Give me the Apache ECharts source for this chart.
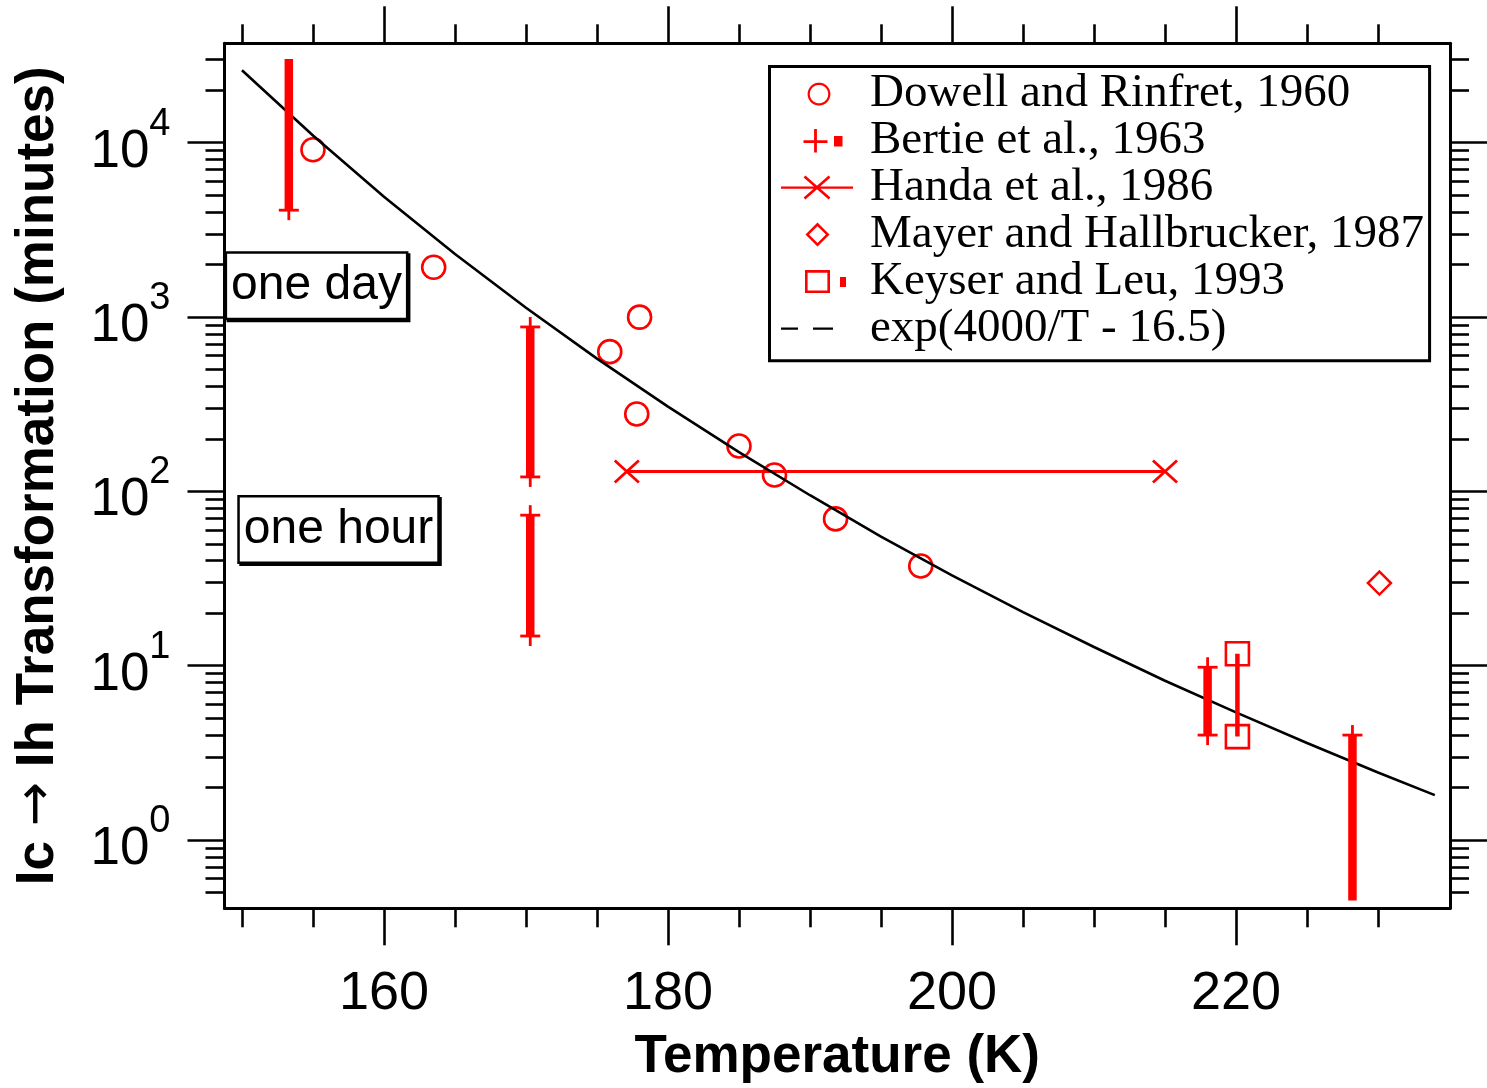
<!DOCTYPE html>
<html>
<head>
<meta charset="utf-8">
<script src="https://cdn.jsdelivr.net/npm/echarts@6/dist/echarts.min.js"></script>
<style>
html,body{margin:0;padding:0;background:#fff;}
#chart{width:1487px;height:1088px;}
</style>
</head>
<body>
<div id="chart"></div>
<script>
// ---------------- data (temperature in K, time in minutes) ----------------
const seriesNames = [
  'Dowell and Rinfret, 1960',
  'Bertie et al., 1963',
  'Handa et al., 1986',
  'Mayer and Hallbrucker, 1987',
  'Keyser and Leu, 1993',
  'exp(4000/T - 16.5)'
];

const dowellT = [155.0, 163.5, 175.9, 178.0, 177.8, 185.0, 187.5, 191.8, 197.8];
const dowellMinutes = [9100, 1930, 633, 998, 278, 182, 124, 69.5, 37.3];

const bertieT = [153.3, 170.3, 170.3, 218.0, 228.2];
const bertieLow = [4100, 121, 14.8, 4.0, 0.45];
const bertieHigh = [30200, 877, 73, 9.8, 4.0];
const bertieLowMarked = [1, 1, 1, 1, 0];
const bertieHighMarked = [0, 1, 1, 1, 1];

const handaT = [177.1, 215.0];
const handaMinutes = [130, 130];

const mayerT = [230.1];
const mayerMinutes = [29.8];

const keyserT = [220.1, 220.1];
const keyserMinutes = [11.7, 3.92];

const fitT = [150, 155, 160, 165, 170, 175, 180, 185, 190, 195, 200, 205, 210, 215, 220, 225, 230, 234];
const fitMinutes = [26000, 11000, 4900, 2300, 1130, 577, 306, 168, 95, 55, 33, 20.3, 12.8, 8.2, 5.4, 3.6, 2.44, 1.81];

const annotationText = ['one day', 'one hour'];
const annotationT = [155.25, 156.8];
const annotationMinutes = [1510, 60.5];

// axis ranges and ticks
const xMin = 148.77, xMax = 235.07;
const yMinMinutes = 0.406, yMaxMinutes = 37150;
const xLabelTicks = [160, 180, 200, 220];
const xMinorTicks = [150, 155, 165, 170, 175, 185, 190, 195, 205, 210, 215, 225, 230];
const yDecadeExponents = [0, 1, 2, 3, 4];
const yMinorMultipliers = [2, 3, 4, 5, 6, 7, 8, 9];

// ---------------- helpers ----------------
const lg = Math.log10;
const yMin = lg(yMinMinutes), yMax = lg(yMaxMinutes);
const yMinorTicks = [];
for (let e = -1; e <= 4; e++) {
  yMinorMultipliers.forEach(m => {
    const v = lg(m) + e;
    if (v > yMin && v < yMax) yMinorTicks.push(v);
  });
}
const FONT = 'Liberation Sans';
const SERIF = 'Liberation Serif';
const BLACK = '#000000';
const RED = '#ff0000';

// legend icon path helpers (84 x 24 frame)
function polyStr(pts, sign) {
  let a = 0;
  for (let i = 0; i < pts.length; i++) {
    const p = pts[i], q = pts[(i + 1) % pts.length];
    a += p[0] * q[1] - q[0] * p[1];
  }
  if (a * sign < 0) pts = pts.slice().reverse();
  return 'M' + pts.map(p => p[0].toFixed(2) + ' ' + p[1].toFixed(2)).join('L') + 'Z';
}
function rectP(x0, y0, x1, y1, s) { return polyStr([[x0, y0], [x1, y0], [x1, y1], [x0, y1]], s || 1); }
function segP(x1, y1, x2, y2, w) {
  const dx = x2 - x1, dy = y2 - y1, L = Math.hypot(dx, dy);
  const nx = -dy / L * w / 2, ny = dx / L * w / 2;
  return polyStr([[x1 + nx, y1 + ny], [x2 + nx, y2 + ny], [x2 - nx, y2 - ny], [x1 - nx, y1 - ny]], 1);
}
function circlePts(cx, cy, r) {
  const pts = [];
  for (let i = 0; i < 48; i++) { const t = i / 48 * Math.PI * 2; pts.push([cx + r * Math.cos(t), cy + r * Math.sin(t)]); }
  return pts;
}
function ringP(cx, cy, ro, ri) { return polyStr(circlePts(cx, cy, ro), 1) + polyStr(circlePts(cx, cy, ri), -1); }
function diamondP(cx, cy, h, t) {
  const hi = h - t * Math.SQRT2;
  const d = (k) => [[cx, cy - k], [cx + k, cy], [cx, cy + k], [cx - k, cy]];
  return polyStr(d(h), 1) + polyStr(d(hi), -1);
}
const FRAME = 'M0 0M84 24';
const legendIcons = [
  FRAME + ringP(38, 12.5, 11.4, 9.2),
  FRAME + rectP(22.5, 11.6, 46.5, 14.4) + rectP(33.1, 0.5, 35.9, 24) + rectP(53, 7.5, 61.5, 18),
  FRAME + rectP(0, 10.8, 72, 13.2) + segP(23.5, 1, 48.5, 23, 2.6) + segP(48.5, 1, 23.5, 23, 2.6),
  FRAME + diamondP(36.5, 12, 12, 2.5),
  FRAME + rectP(24, 0.5, 49, 23.5) + rectP(26.6, 3.1, 46.4, 20.9, -1) + rectP(59, 7.5, 65, 17.5),
  FRAME + rectP(0, 10.8, 17, 13.2) + rectP(32, 10.8, 52, 13.2)
].map(p => 'path://' + p);
const legendColors = [RED, RED, RED, RED, RED, BLACK];

const X_SHAPE = 'path://' + segP(0, 0, 26, 24, 3) + segP(26, 0, 0, 24, 3);

function xAxisDef(position, ticks, tickLen, withLine, withLabels, extra) {
  return Object.assign({
    type: 'value', position, min: xMin, max: xMax, gridIndex: 0,
    axisLine: { show: withLine, onZero: false, lineStyle: { color: BLACK, width: 3 } },
    axisTick: { show: true, inside: false, length: tickLen, customValues: ticks, lineStyle: { color: BLACK, width: 2.6 } },
    axisLabel: { show: withLabels, customValues: xLabelTicks, margin: 59, fontSize: 54, fontFamily: FONT, color: BLACK },
    splitLine: { show: false }, minorTick: { show: false }, axisPointer: { show: false }
  }, extra || {});
}
function yAxisDef(position, ticks, tickLen, withLine, withLabels, extra) {
  return Object.assign({
    type: 'value', position, min: yMin, max: yMax, gridIndex: 0,
    axisLine: { show: withLine, onZero: false, lineStyle: { color: BLACK, width: 3 } },
    axisTick: { show: true, inside: false, length: tickLen, customValues: ticks, lineStyle: { color: BLACK, width: 2.6 } },
    axisLabel: {
      show: withLabels, customValues: yDecadeExponents, margin: 54,
      padding: [19, 0, 0, 0],
      formatter: v => '{b|10}{s|' + Math.round(v) + '}',
      rich: {
        b: { fontSize: 53, lineHeight: 94, fontFamily: FONT, color: BLACK },
        s: { fontSize: 38, lineHeight: 38, verticalAlign: 'top', fontFamily: FONT, color: BLACK }
      }
    },
    splitLine: { show: false }, minorTick: { show: false }, axisPointer: { show: false }
  }, extra || {});
}

const option = {
  animation: false,
  backgroundColor: '#ffffff',
  grid: { left: 224.5, right: 37, top: 43.3, bottom: 179.7, containLabel: false, outerBoundsMode: 'none' },
  xAxis: [
    xAxisDef('bottom', xMinorTicks, 19, true, true, {
      name: 'Temperature (K)', nameLocation: 'middle', nameGap: 123, nameMoveOverlap: false,
      nameTextStyle: { fontFamily: FONT, fontWeight: 'bold', fontSize: 53, color: BLACK }
    }),
    xAxisDef('bottom', xLabelTicks, 37, false, false),
    xAxisDef('top', xMinorTicks, 19, true, false),
    xAxisDef('top', xLabelTicks, 37, false, false)
  ],
  yAxis: [
    yAxisDef('left', yMinorTicks, 19, true, true, {
      name: 'Ic {a|\u2192} Ih Transformation (minutes)', nameLocation: 'middle', nameGap: 160, nameMoveOverlap: false,
      nameTextStyle: {
        fontFamily: FONT, fontWeight: 'bold', fontSize: 53, color: BLACK,
        rich: { a: { fontFamily: 'DejaVu Sans', fontWeight: 'normal', fontSize: 53, color: BLACK } }
      }
    }),
    yAxisDef('left', yDecadeExponents, 37, false, false),
    yAxisDef('right', yMinorTicks, 19, true, false),
    yAxisDef('right', yDecadeExponents, 37, false, false)
  ],
  legend: {
    show: true, orient: 'vertical', left: 769.5, top: 66.5,
    padding: [3.6, 5.5, 8.6, 11.5], itemGap: 0, itemWidth: 84, itemHeight: 24,
    selectedMode: false, borderColor: BLACK, borderWidth: 3, backgroundColor: '#ffffff',
    textStyle: { fontFamily: SERIF, fontSize: 47, lineHeight: 46.8, color: BLACK },
    itemStyle: { borderWidth: 0 },
    data: seriesNames.map((n, i) => ({ name: n, icon: legendIcons[i], itemStyle: { color: legendColors[i], borderWidth: 0, opacity: 1 } }))
  },
  series: [
    {
      name: seriesNames[0], type: 'scatter', z: 2,
      data: dowellT.map((t, i) => [t, lg(dowellMinutes[i])]),
      symbol: 'circle', symbolSize: 23,
      itemStyle: { color: 'rgba(0,0,0,0)', borderColor: RED, borderWidth: 2.6, opacity: 1 }
    },
    {
      name: seriesNames[1], type: 'custom', z: 4, clip: false,
      itemStyle: { color: RED },
      data: bertieT.map((t, i) => [t, lg(bertieLow[i]), lg(bertieHigh[i]), bertieLowMarked[i], bertieHighMarked[i]]),
      encode: { x: 0, y: [1, 2] },
      renderItem: function (params, api) {
        const t = api.value(0);
        const pLo = api.coord([t, api.value(1)]);
        const pHi = api.coord([t, api.value(2)]);
        const children = [{
          type: 'line', shape: { x1: pLo[0], y1: pLo[1], x2: pHi[0], y2: pHi[1] },
          style: { stroke: RED, lineWidth: 8.5, lineCap: 'butt' }
        }];
        const plus = (p) => {
          children.push({ type: 'line', shape: { x1: p[0] - 10, y1: p[1], x2: p[0] + 10, y2: p[1] }, style: { stroke: RED, lineWidth: 2.8 } });
          children.push({ type: 'line', shape: { x1: p[0], y1: p[1] - 10, x2: p[0], y2: p[1] + 10 }, style: { stroke: RED, lineWidth: 2.8 } });
        };
        if (api.value(3)) plus(pLo);
        if (api.value(4)) plus(pHi);
        return { type: 'group', children };
      }
    },
    {
      name: seriesNames[2], type: 'line', z: 2,
      data: handaT.map((t, i) => [t, lg(handaMinutes[i])]),
      symbol: X_SHAPE, symbolSize: [26, 24], showSymbol: true,
      itemStyle: { color: RED, borderWidth: 0, opacity: 1 },
      lineStyle: { color: RED, width: 3 }
    },
    {
      name: seriesNames[3], type: 'scatter', z: 2,
      data: mayerT.map((t, i) => [t, lg(mayerMinutes[i])]),
      symbol: 'diamond', symbolSize: 23,
      itemStyle: { color: 'rgba(0,0,0,0)', borderColor: RED, borderWidth: 2.5, opacity: 1 }
    },
    {
      name: seriesNames[4], type: 'line', z: 4,
      data: keyserT.map((t, i) => [t, lg(keyserMinutes[i])]),
      symbol: 'rect', symbolSize: 23, showSymbol: true,
      itemStyle: { color: 'rgba(0,0,0,0)', borderColor: RED, borderWidth: 2.6, opacity: 1 },
      lineStyle: { color: RED, width: 4.5 }
    },
    {
      name: seriesNames[5], type: 'line', z: 3,
      data: fitT.map((t, i) => [t, lg(fitMinutes[i])]),
      symbol: 'none', showSymbol: false, smooth: false,
      itemStyle: { color: BLACK },
      lineStyle: { color: BLACK, width: 2.6 }
    },
    {
      name: 'annotations', type: 'scatter', z: 6, silent: true,
      data: annotationT.map((t, i) => [t, lg(annotationMinutes[i])]),
      symbol: 'rect', symbolSize: 1,
      itemStyle: { color: 'rgba(0,0,0,0)', opacity: 1 },
      label: {
        show: true, position: 'inside',
        formatter: p => annotationText[p.dataIndex],
        fontFamily: FONT, fontSize: 48, lineHeight: 48, color: BLACK,
        backgroundColor: '#ffffff', borderColor: BLACK, borderWidth: 2.5,
        padding: [8, 4, 8, 4],
        shadowColor: BLACK, shadowOffsetX: 2, shadowOffsetY: 2, shadowBlur: 0
      }
    }
  ]
};

const chart = echarts.init(document.getElementById('chart'), null, { renderer: 'canvas', width: 1487, height: 1088 });
chart.setOption(option);
</script>
</body>
</html>
